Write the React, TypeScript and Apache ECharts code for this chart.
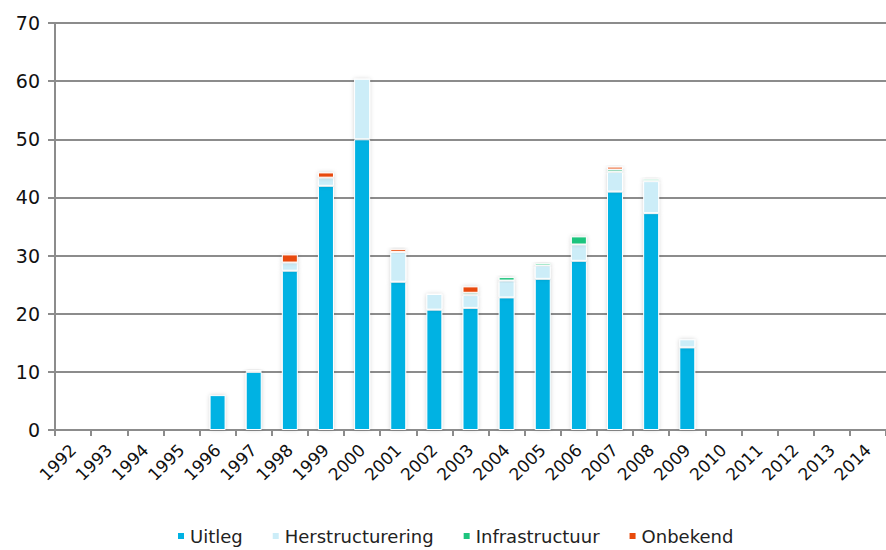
import React, { useEffect, useRef } from "react";
import * as echarts from "echarts";

const years = ["1992","1993","1994","1995","1996","1997","1998","1999","2000","2001","2002","2003","2004","2005","2006","2007","2008","2009","2010","2011","2012","2013","2014"];
const uitleg = [null,null,null,null,6.0,10.0,27.4,42.0,50.0,25.5,20.7,21.0,22.8,26.0,29.1,41.0,37.3,14.2,null,null,null,null,null];
const herstructurering = [null,null,null,null,null,0.3,1.4,1.4,10.4,5.1,2.7,2.2,2.9,2.3,2.8,3.4,5.5,1.4,null,null,null,null,null];
const infrastructuur = [null,null,null,null,null,null,null,null,null,null,null,0.4,0.6,0.4,1.4,0.4,0.4,null,null,null,null,null,null];
const onbekend = [null,null,null,null,null,null,1.4,0.9,null,0.5,null,1.1,null,null,null,0.5,null,null,null,null,null,null,null];
const yTicks = [0, 10, 20, 30, 40, 50, 60, 70];

const FONT = "DejaVu Sans";

export default function App() {
  const ref = useRef<HTMLDivElement>(null);
  useEffect(() => {
    const chart = echarts.init(ref.current!, null, { renderer: "svg" });
    const barStyle = (color: string) => ({
      color,
      borderColor: "#ffffff",
      borderWidth: 1,
      shadowBlur: 4,
      shadowColor: "rgba(0,0,0,0.18)",
    });
    const mk = (name: string, data: (number | null)[], color: string) => ({
      name,
      type: "bar",
      stack: "total",
      data,
      barWidth: 16,
      itemStyle: barStyle(color),
    });
    chart.setOption({
      animation: false,
      backgroundColor: "#ffffff",
      grid: { left: 55, right: 0, top: 23, bottom: 120, containLabel: false },
      legend: {
        top: 527,
        left: 176,
        padding: 0,
        itemWidth: 8,
        itemHeight: 8,
        itemGap: 28,
        icon: "rect",
        textStyle: { fontFamily: FONT, fontSize: 18, color: "#222" },
        data: ["Uitleg", "Herstructurering", "Infrastructuur", "Onbekend"],
      },
      xAxis: {
        type: "category",
        data: years,
        boundaryGap: true,
        axisLine: { lineStyle: { color: "#8c8c8c", width: 2 } },
        axisTick: { show: true, alignWithLabel: false, length: 6, lineStyle: { color: "#8c8c8c", width: 2 } },
        axisLabel: { rotate: 45, fontFamily: FONT, fontSize: 17, color: "#111", margin: 17, interval: 0 },
      },
      yAxis: {
        type: "value",
        min: yTicks[0],
        max: yTicks[yTicks.length - 1],
        interval: 10,
        axisLine: { show: true, lineStyle: { color: "#8c8c8c", width: 2 } },
        axisTick: { show: true, length: 7, lineStyle: { color: "#8c8c8c", width: 2 } },
        splitLine: { show: true, lineStyle: { color: "#8c8c8c", width: 2 } },
        axisLabel: { fontFamily: FONT, fontSize: 19, color: "#111", margin: 15 },
      },
      series: [
        mk("Uitleg", uitleg, "#00B2E3"),
        mk("Herstructurering", herstructurering, "#CCEDF8"),
        mk("Infrastructuur", infrastructuur, "#1FC47E"),
        mk("Onbekend", onbekend, "#E84A0C"),
      ],
    });
    return () => chart.dispose();
  }, []);
  return <div ref={ref} style={{ position: "absolute", left: 0, top: 0, width: 886, height: 550 }} />;
}
